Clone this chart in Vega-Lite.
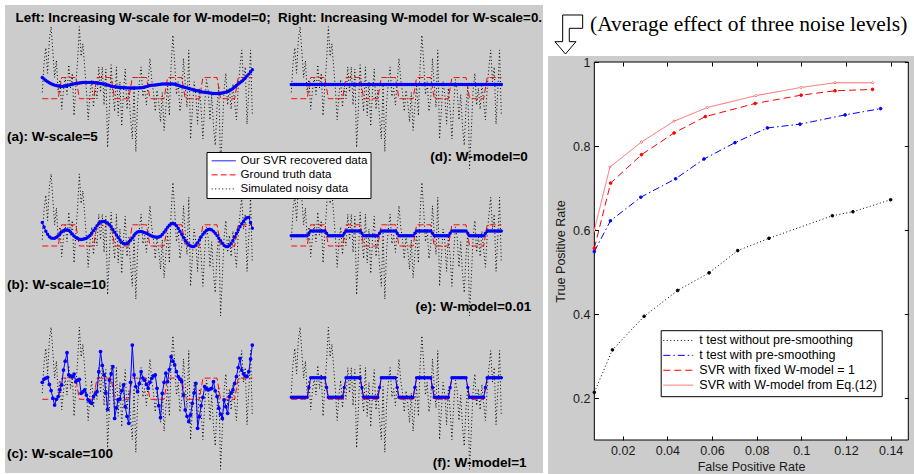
{
"$schema": "https://vega.github.io/schema/vega-lite/v6.json",
"background": "white",
"padding": {"left": 5, "top": 5, "right": 0, "bottom": 0},
"datasets": {
"sig": [
{"i":1,"noise":0.3,"truth":0,"a":1.0,"b":1.11,"c":0.8,"d":0.67,"e":0.48,"f":0.1},
{"i":2,"noise":1.7,"truth":0,"a":0.93,"b":0.9,"c":0.95,"d":0.67,"e":0.48,"f":0.1},
{"i":3,"noise":2.4,"truth":0,"a":0.86,"b":0.7,"c":1.0,"d":0.67,"e":0.48,"f":0.1},
{"i":4,"noise":1.2,"truth":0,"a":0.8,"b":0.55,"c":1.04,"d":0.67,"e":0.48,"f":0.1},
{"i":5,"noise":2.8,"truth":0,"a":0.75,"b":0.44,"c":0.7,"d":0.67,"e":0.48,"f":0.1},
{"i":6,"noise":3.4,"truth":0,"a":0.71,"b":0.38,"c":0.41,"d":0.67,"e":0.48,"f":0.1},
{"i":7,"noise":2.2,"truth":0,"a":0.67,"b":0.36,"c":0.05,"d":0.67,"e":0.48,"f":0.1},
{"i":8,"noise":1.0,"truth":0,"a":0.64,"b":0.37,"c":-0.27,"d":0.67,"e":0.48,"f":0.1},
{"i":9,"noise":1.8,"truth":0,"a":0.62,"b":0.41,"c":0.0,"d":0.67,"e":0.48,"f":0.1},
{"i":10,"noise":0.3,"truth":0,"a":0.6,"b":0.48,"c":0.13,"d":0.67,"e":0.48,"f":0.1},
{"i":11,"noise":0.9,"truth":0.5,"a":0.59,"b":0.57,"c":0.45,"d":0.67,"e":0.6,"f":0.56},
{"i":12,"noise":-0.5,"truth":1,"a":0.58,"b":0.66,"c":0.68,"d":0.67,"e":0.71,"f":1.02},
{"i":13,"noise":0.4,"truth":1,"a":0.59,"b":0.72,"c":1.38,"d":0.67,"e":0.71,"f":1.02},
{"i":14,"noise":1.0,"truth":1,"a":0.6,"b":0.75,"c":1.8,"d":0.67,"e":0.71,"f":1.02},
{"i":15,"noise":0.2,"truth":1,"a":0.62,"b":0.75,"c":2.2,"d":0.67,"e":0.71,"f":1.02},
{"i":16,"noise":1.6,"truth":1,"a":0.64,"b":0.73,"c":1.15,"d":0.67,"e":0.71,"f":1.02},
{"i":17,"noise":0.5,"truth":1,"a":0.66,"b":0.66,"c":1.1,"d":0.67,"e":0.71,"f":1.02},
{"i":18,"noise":1.2,"truth":1,"a":0.68,"b":0.56,"c":1.07,"d":0.67,"e":0.71,"f":1.02},
{"i":19,"noise":-0.8,"truth":1,"a":0.7,"b":0.47,"c":1.19,"d":0.67,"e":0.71,"f":1.02},
{"i":20,"noise":0.6,"truth":1,"a":0.72,"b":0.4,"c":0.83,"d":0.67,"e":0.71,"f":1.02},
{"i":21,"noise":1.8,"truth":0.5,"a":0.73,"b":0.35,"c":0.9,"d":0.67,"e":0.6,"f":0.56},
{"i":22,"noise":3.4,"truth":0,"a":0.74,"b":0.32,"c":0.94,"d":0.67,"e":0.48,"f":0.1},
{"i":23,"noise":2.0,"truth":0,"a":0.75,"b":0.31,"c":0.28,"d":0.67,"e":0.48,"f":0.1},
{"i":24,"noise":2.6,"truth":0,"a":0.76,"b":0.32,"c":0.35,"d":0.67,"e":0.48,"f":0.1},
{"i":25,"noise":1.5,"truth":0,"a":0.77,"b":0.34,"c":0.44,"d":0.67,"e":0.48,"f":0.1},
{"i":26,"noise":0.4,"truth":0,"a":0.77,"b":0.37,"c":0.2,"d":0.67,"e":0.48,"f":0.1},
{"i":27,"noise":-1.0,"truth":0,"a":0.77,"b":0.42,"c":-0.03,"d":0.67,"e":0.48,"f":0.1},
{"i":28,"noise":0.2,"truth":0,"a":0.77,"b":0.5,"c":-0.1,"d":0.67,"e":0.48,"f":0.1},
{"i":29,"noise":0.9,"truth":0,"a":0.76,"b":0.6,"c":-0.19,"d":0.67,"e":0.48,"f":0.1},
{"i":30,"noise":-0.4,"truth":0,"a":0.76,"b":0.72,"c":0.13,"d":0.67,"e":0.48,"f":0.1},
{"i":31,"noise":0.5,"truth":0.5,"a":0.75,"b":0.84,"c":0.25,"d":0.67,"e":0.6,"f":0.56},
{"i":32,"noise":0.0,"truth":1,"a":0.74,"b":0.96,"c":0.36,"d":0.67,"e":0.71,"f":1.02},
{"i":33,"noise":1.5,"truth":1,"a":0.73,"b":1.06,"c":1.3,"d":0.67,"e":0.71,"f":1.02},
{"i":34,"noise":0.3,"truth":1,"a":0.72,"b":1.13,"c":2.25,"d":0.67,"e":0.71,"f":1.02},
{"i":35,"noise":1.5,"truth":1,"a":0.7,"b":1.16,"c":1.6,"d":0.67,"e":0.71,"f":1.02},
{"i":36,"noise":-0.3,"truth":1,"a":0.69,"b":1.16,"c":1.15,"d":0.67,"e":0.71,"f":1.02},
{"i":37,"noise":1.4,"truth":1,"a":0.67,"b":1.13,"c":0.3,"d":0.67,"e":0.71,"f":1.02},
{"i":38,"noise":-2.3,"truth":1,"a":0.65,"b":1.08,"c":-0.47,"d":0.67,"e":0.71,"f":1.02},
{"i":39,"noise":-0.5,"truth":1,"a":0.62,"b":1.0,"c":0.91,"d":0.67,"e":0.71,"f":1.02},
{"i":40,"noise":1.6,"truth":1,"a":0.59,"b":0.9,"c":1.2,"d":0.67,"e":0.71,"f":1.02},
{"i":41,"noise":0.2,"truth":0.5,"a":0.57,"b":0.78,"c":1.54,"d":0.67,"e":0.6,"f":0.56},
{"i":42,"noise":-0.6,"truth":0,"a":0.56,"b":0.65,"c":-0.9,"d":0.67,"e":0.48,"f":0.1},
{"i":43,"noise":1.5,"truth":0,"a":0.55,"b":0.52,"c":-0.4,"d":0.67,"e":0.48,"f":0.1},
{"i":44,"noise":-0.8,"truth":0,"a":0.54,"b":0.4,"c":-0.03,"d":0.67,"e":0.48,"f":0.1},
{"i":45,"noise":0.8,"truth":0,"a":0.53,"b":0.28,"c":0.02,"d":0.67,"e":0.48,"f":0.1},
{"i":46,"noise":-1.3,"truth":0,"a":0.53,"b":0.18,"c":0.4,"d":0.67,"e":0.48,"f":0.1},
{"i":47,"noise":0.3,"truth":0,"a":0.52,"b":0.12,"c":0.68,"d":0.67,"e":0.48,"f":0.1},
{"i":48,"noise":1.4,"truth":0,"a":0.52,"b":0.1,"c":-0.35,"d":0.67,"e":0.48,"f":0.1},
{"i":49,"noise":-0.5,"truth":0,"a":0.51,"b":0.12,"c":-0.8,"d":0.67,"e":0.48,"f":0.1},
{"i":50,"noise":0.4,"truth":0,"a":0.51,"b":0.18,"c":-1.13,"d":0.67,"e":0.48,"f":0.1},
{"i":51,"noise":-0.9,"truth":0.5,"a":0.5,"b":0.27,"c":0.8,"d":0.67,"e":0.6,"f":0.56},
{"i":52,"noise":-1.9,"truth":1,"a":0.5,"b":0.38,"c":2.56,"d":0.67,"e":0.71,"f":1.02},
{"i":53,"noise":0.6,"truth":1,"a":0.5,"b":0.5,"c":1.15,"d":0.67,"e":0.71,"f":1.02},
{"i":54,"noise":-2.5,"truth":1,"a":0.51,"b":0.6,"c":0.6,"d":0.67,"e":0.71,"f":1.02},
{"i":55,"noise":-0.2,"truth":1,"a":0.51,"b":0.66,"c":0.36,"d":0.67,"e":0.71,"f":1.02},
{"i":56,"noise":0.8,"truth":1,"a":0.52,"b":0.68,"c":0.75,"d":0.67,"e":0.71,"f":1.02},
{"i":57,"noise":1.5,"truth":1,"a":0.52,"b":0.68,"c":1.3,"d":0.67,"e":0.71,"f":1.02},
{"i":58,"noise":0.1,"truth":1,"a":0.53,"b":0.66,"c":1.0,"d":0.67,"e":0.71,"f":1.02},
{"i":59,"noise":0.5,"truth":1,"a":0.55,"b":0.63,"c":0.9,"d":0.67,"e":0.71,"f":1.02},
{"i":60,"noise":-0.3,"truth":1,"a":0.57,"b":0.6,"c":0.7,"d":0.67,"e":0.71,"f":1.02},
{"i":61,"noise":0.8,"truth":0.5,"a":0.6,"b":0.56,"c":0.52,"d":0.67,"e":0.6,"f":0.56},
{"i":62,"noise":1.9,"truth":0,"a":0.62,"b":0.51,"c":0.8,"d":0.67,"e":0.48,"f":0.1},
{"i":63,"noise":0.9,"truth":0,"a":0.63,"b":0.47,"c":0.99,"d":0.67,"e":0.48,"f":0.1},
{"i":64,"noise":0.3,"truth":0,"a":0.64,"b":0.44,"c":1.1,"d":0.67,"e":0.48,"f":0.1},
{"i":65,"noise":-0.6,"truth":0,"a":0.65,"b":0.42,"c":1.15,"d":0.67,"e":0.48,"f":0.1},
{"i":66,"noise":0.4,"truth":0,"a":0.66,"b":0.41,"c":0.52,"d":0.67,"e":0.48,"f":0.1},
{"i":67,"noise":-0.2,"truth":0,"a":0.67,"b":0.42,"c":-0.3,"d":0.67,"e":0.48,"f":0.1},
{"i":68,"noise":-1.1,"truth":0,"a":0.68,"b":0.46,"c":-0.86,"d":0.67,"e":0.48,"f":0.1},
{"i":69,"noise":0.3,"truth":0,"a":0.69,"b":0.54,"c":0.28,"d":0.67,"e":0.48,"f":0.1},
{"i":70,"noise":-1.5,"truth":0,"a":0.69,"b":0.65,"c":0.8,"d":0.67,"e":0.48,"f":0.1},
{"i":71,"noise":-0.4,"truth":0.5,"a":0.69,"b":0.77,"c":1.23,"d":0.67,"e":0.6,"f":0.56},
{"i":72,"noise":0.6,"truth":1,"a":0.69,"b":0.88,"c":0.83,"d":0.67,"e":0.71,"f":1.02},
{"i":73,"noise":-0.8,"truth":1,"a":0.69,"b":0.98,"c":1.4,"d":0.67,"e":0.71,"f":1.02},
{"i":74,"noise":1.6,"truth":1,"a":0.69,"b":1.05,"c":2.01,"d":0.67,"e":0.71,"f":1.02},
{"i":75,"noise":3.0,"truth":1,"a":0.69,"b":1.07,"c":1.8,"d":0.67,"e":0.71,"f":1.02},
{"i":76,"noise":1.7,"truth":1,"a":0.68,"b":1.04,"c":1.62,"d":0.67,"e":0.71,"f":1.02},
{"i":77,"noise":0.2,"truth":1,"a":0.66,"b":0.96,"c":1.3,"d":0.67,"e":0.71,"f":1.02},
{"i":78,"noise":0.8,"truth":1,"a":0.63,"b":0.84,"c":1.07,"d":0.67,"e":0.71,"f":1.02},
{"i":79,"noise":-0.6,"truth":1,"a":0.6,"b":0.7,"c":0.95,"d":0.67,"e":0.71,"f":1.02},
{"i":80,"noise":0.0,"truth":1,"a":0.57,"b":0.55,"c":0.83,"d":0.67,"e":0.71,"f":1.02},
{"i":81,"noise":1.9,"truth":0.5,"a":0.55,"b":0.4,"c":0.2,"d":0.67,"e":0.6,"f":0.56},
{"i":82,"noise":0.6,"truth":0,"a":0.53,"b":0.26,"c":-0.5,"d":0.67,"e":0.48,"f":0.1},
{"i":83,"noise":-0.4,"truth":0,"a":0.51,"b":0.15,"c":-0.8,"d":0.67,"e":0.48,"f":0.1},
{"i":84,"noise":2.3,"truth":0,"a":0.48,"b":0.06,"c":-1.05,"d":0.67,"e":0.48,"f":0.1},
{"i":85,"noise":-1.9,"truth":0,"a":0.46,"b":0.0,"c":-0.74,"d":0.67,"e":0.48,"f":0.1},
{"i":86,"noise":-0.6,"truth":0,"a":0.43,"b":-0.03,"c":-0.19,"d":0.67,"e":0.48,"f":0.1},
{"i":87,"noise":0.8,"truth":0,"a":0.41,"b":-0.02,"c":0.3,"d":0.67,"e":0.48,"f":0.1},
{"i":88,"noise":0.2,"truth":0,"a":0.39,"b":0.05,"c":0.75,"d":0.67,"e":0.48,"f":0.1},
{"i":89,"noise":-1.2,"truth":0,"a":0.37,"b":0.15,"c":-1.37,"d":0.67,"e":0.48,"f":0.1},
{"i":90,"noise":0.5,"truth":0,"a":0.35,"b":0.28,"c":-0.82,"d":0.67,"e":0.48,"f":0.1},
{"i":91,"noise":-0.5,"truth":0.5,"a":0.33,"b":0.42,"c":-0.3,"d":0.67,"e":0.6,"f":0.56},
{"i":92,"noise":-1.9,"truth":1,"a":0.31,"b":0.55,"c":0.09,"d":0.67,"e":0.71,"f":1.02},
{"i":93,"noise":-0.3,"truth":1,"a":0.3,"b":0.65,"c":0.6,"d":0.67,"e":0.71,"f":1.02},
{"i":94,"noise":0.9,"truth":1,"a":0.29,"b":0.73,"c":0.5,"d":0.67,"e":0.71,"f":1.02},
{"i":95,"noise":0.4,"truth":1,"a":0.28,"b":0.78,"c":0.44,"d":0.67,"e":0.71,"f":1.02},
{"i":96,"noise":-1.0,"truth":1,"a":0.27,"b":0.79,"c":0.48,"d":0.67,"e":0.71,"f":1.02},
{"i":97,"noise":0.2,"truth":1,"a":0.26,"b":0.76,"c":0.52,"d":0.67,"e":0.71,"f":1.02},
{"i":98,"noise":-1.3,"truth":1,"a":0.25,"b":0.69,"c":0.83,"d":0.67,"e":0.71,"f":1.02},
{"i":99,"noise":-2.2,"truth":1,"a":0.25,"b":0.6,"c":0.4,"d":0.67,"e":0.71,"f":1.02},
{"i":100,"noise":-0.4,"truth":1,"a":0.25,"b":0.49,"c":0.13,"d":0.67,"e":0.71,"f":1.02},
{"i":101,"noise":0.6,"truth":0.5,"a":0.25,"b":0.37,"c":-0.42,"d":0.67,"e":0.6,"f":0.56},
{"i":102,"noise":-3.3,"truth":0,"a":0.26,"b":0.25,"c":-0.7,"d":0.67,"e":0.48,"f":0.1},
{"i":103,"noise":-1.5,"truth":0,"a":0.27,"b":0.13,"c":-0.9,"d":0.67,"e":0.48,"f":0.1},
{"i":104,"noise":0.4,"truth":0,"a":0.29,"b":0.03,"c":-0.03,"d":0.67,"e":0.48,"f":0.1},
{"i":105,"noise":1.2,"truth":0,"a":0.31,"b":-0.02,"c":-0.35,"d":0.67,"e":0.48,"f":0.1},
{"i":106,"noise":-0.3,"truth":0,"a":0.34,"b":-0.03,"c":-0.66,"d":0.67,"e":0.48,"f":0.1},
{"i":107,"noise":0.5,"truth":0,"a":0.38,"b":0.02,"c":0.13,"d":0.67,"e":0.48,"f":0.1},
{"i":108,"noise":-0.5,"truth":0,"a":0.42,"b":0.12,"c":0.3,"d":0.67,"e":0.48,"f":0.1},
{"i":109,"noise":0.7,"truth":0,"a":0.48,"b":0.26,"c":0.44,"d":0.67,"e":0.48,"f":0.1},
{"i":110,"noise":-0.2,"truth":0,"a":0.55,"b":0.42,"c":0.75,"d":0.67,"e":0.48,"f":0.1},
{"i":111,"noise":-1.0,"truth":0.5,"a":0.62,"b":0.59,"c":1.07,"d":0.67,"e":0.6,"f":0.56},
{"i":112,"noise":0.5,"truth":1,"a":0.69,"b":0.75,"c":1.5,"d":0.67,"e":0.71,"f":1.02},
{"i":113,"noise":1.5,"truth":1,"a":0.75,"b":0.91,"c":1.93,"d":0.67,"e":0.71,"f":1.02},
{"i":114,"noise":2.3,"truth":1,"a":0.82,"b":1.05,"c":1.38,"d":0.67,"e":0.71,"f":1.02},
{"i":115,"noise":0.8,"truth":1,"a":0.9,"b":1.17,"c":1.2,"d":0.67,"e":0.71,"f":1.02},
{"i":116,"noise":1.5,"truth":1,"a":0.98,"b":1.27,"c":1.1,"d":0.67,"e":0.71,"f":1.02},
{"i":117,"noise":-1.2,"truth":1,"a":1.07,"b":1.33,"c":1.07,"d":0.67,"e":0.71,"f":1.02},
{"i":118,"noise":0.4,"truth":1,"a":1.16,"b":1.35,"c":1.3,"d":0.67,"e":0.71,"f":1.02},
{"i":119,"noise":2.3,"truth":1,"a":1.26,"b":1.1,"c":1.9,"d":0.67,"e":0.71,"f":1.02},
{"i":120,"noise":-0.8,"truth":1,"a":1.37,"b":0.84,"c":2.56,"d":0.67,"e":0.71,"f":1.02}
],
"roc": [
{"series":"t test without pre-smoothing","fpr":0.0073,"tpr":0.2134},
{"series":"t test without pre-smoothing","fpr":0.0154,"tpr":0.3146},
{"series":"t test without pre-smoothing","fpr":0.0296,"tpr":0.3945},
{"series":"t test without pre-smoothing","fpr":0.0446,"tpr":0.4561},
{"series":"t test without pre-smoothing","fpr":0.0587,"tpr":0.498},
{"series":"t test without pre-smoothing","fpr":0.0715,"tpr":0.551},
{"series":"t test without pre-smoothing","fpr":0.0855,"tpr":0.5802},
{"series":"t test without pre-smoothing","fpr":0.1139,"tpr":0.634},
{"series":"t test without pre-smoothing","fpr":0.1231,"tpr":0.6435},
{"series":"t test without pre-smoothing","fpr":0.14,"tpr":0.672},
{"series":"t test with pre-smoothing","fpr":0.0073,"tpr":0.5486},
{"series":"t test with pre-smoothing","fpr":0.0145,"tpr":0.622},
{"series":"t test with pre-smoothing","fpr":0.0281,"tpr":0.678},
{"series":"t test with pre-smoothing","fpr":0.0437,"tpr":0.722},
{"series":"t test with pre-smoothing","fpr":0.0564,"tpr":0.769},
{"series":"t test with pre-smoothing","fpr":0.0703,"tpr":0.808},
{"series":"t test with pre-smoothing","fpr":0.0848,"tpr":0.843},
{"series":"t test with pre-smoothing","fpr":0.0994,"tpr":0.852},
{"series":"t test with pre-smoothing","fpr":0.1196,"tpr":0.874},
{"series":"t test with pre-smoothing","fpr":0.1355,"tpr":0.889},
{"series":"SVR with fixed W-model = 1","fpr":0.0073,"tpr":0.5565},
{"series":"SVR with fixed W-model = 1","fpr":0.0146,"tpr":0.7116},
{"series":"SVR with fixed W-model = 1","fpr":0.0284,"tpr":0.7793},
{"series":"SVR with fixed W-model = 1","fpr":0.043,"tpr":0.831},
{"series":"SVR with fixed W-model = 1","fpr":0.057,"tpr":0.87},
{"series":"SVR with fixed W-model = 1","fpr":0.0793,"tpr":0.9012},
{"series":"SVR with fixed W-model = 1","fpr":0.0999,"tpr":0.921},
{"series":"SVR with fixed W-model = 1","fpr":0.1151,"tpr":0.9315},
{"series":"SVR with fixed W-model = 1","fpr":0.1319,"tpr":0.9347},
{"series":"SVR with W-model from Eq.(12)","fpr":0.0073,"tpr":0.6},
{"series":"SVR with W-model from Eq.(12)","fpr":0.0143,"tpr":0.75},
{"series":"SVR with W-model from Eq.(12)","fpr":0.0284,"tpr":0.8096},
{"series":"SVR with W-model from Eq.(12)","fpr":0.043,"tpr":0.859},
{"series":"SVR with W-model from Eq.(12)","fpr":0.0579,"tpr":0.8916},
{"series":"SVR with W-model from Eq.(12)","fpr":0.0797,"tpr":0.92},
{"series":"SVR with W-model from Eq.(12)","fpr":0.0999,"tpr":0.9394},
{"series":"SVR with W-model from Eq.(12)","fpr":0.1151,"tpr":0.9506},
{"series":"SVR with W-model from Eq.(12)","fpr":0.1319,"tpr":0.9506}
]
},
"spacing": 5,
"resolve": {"scale": {"color": "independent", "strokeDash": "independent"}, "legend": {"color": "independent", "strokeDash": "independent"}},
"hconcat": [
{
"columns": 2,
"spacing": 0,
"bounds": "flush",
"align": "each",
"concat": [
 {"width": 249, "height": 168, "data": {"name": "sig"},
  "layer": [
   {"mark": {"type": "line", "strokeWidth": 1}, "encoding": {
     "x": {"field": "i", "type": "quantitative", "scale": {"domain": [-20.13, 120.95], "nice": false, "zero": false}, "axis": null},
     "y": {"field": "noise", "type": "quantitative", "scale": {"domain": [-3.505, 4.42], "nice": false, "zero": false}, "axis": null},
     "color": {"datum": "Simulated noisy data", "type": "nominal", "scale": {"domain": ["Our SVR recovered data", "Ground truth data", "Simulated noisy data"], "range": ["#0000ff", "#ff0000", "#000000"]},
       "legend": {"orient": "none", "legendX": 201.5, "legendY": 147, "title": null, "padding": 3, "fillColor": "#ffffff", "strokeColor": "#000000", "symbolType": "M-2.4,0H2.4", "symbolSize": 100, "symbolStrokeWidth": 1, "symbolOffset": 8.4, "labelOffset": 11.0, "rowPadding": 1.05, "labelFontSize": 11.6, "labelFont": "Liberation Sans", "labelColor": "#000000", "labelLimit": 300}},
     "strokeDash": {"datum": "Simulated noisy data", "type": "nominal", "scale": {"domain": ["Our SVR recovered data", "Ground truth data", "Simulated noisy data"], "range": [[1, 0], [6, 3], [1, 2.5]]},
       "legend": {"orient": "none", "legendX": 201.5, "legendY": 147, "title": null, "padding": 3, "fillColor": "#ffffff", "strokeColor": "#000000", "symbolType": "M-2.4,0H2.4", "symbolSize": 100, "symbolStrokeWidth": 1, "symbolOffset": 8.4, "labelOffset": 11.0, "rowPadding": 1.05, "labelFontSize": 11.6, "labelFont": "Liberation Sans", "labelColor": "#000000", "labelLimit": 300}}}},
   {"mark": {"type": "line", "strokeWidth": 1}, "encoding": {"x": {"field": "i", "type": "quantitative", "axis": null}, "y": {"field": "truth", "type": "quantitative", "axis": null}, "color": {"datum": "Ground truth data", "type": "nominal"}, "strokeDash": {"datum": "Ground truth data", "type": "nominal"}}},
   {"mark": {"type": "line", "strokeWidth": 1}, "encoding": {"x": {"field": "i", "type": "quantitative", "axis": null}, "y": {"field": "a", "type": "quantitative", "axis": null}, "color": {"datum": "Our SVR recovered data", "type": "nominal"}, "strokeDash": {"datum": "Our SVR recovered data", "type": "nominal"}}},
   {"mark": {"type": "point", "filled": true, "color": "#0000ff", "size": 12, "opacity": 1}, "encoding": {"x": {"field": "i", "type": "quantitative", "axis": null}, "y": {"field": "a", "type": "quantitative", "axis": null}}},
   {"data": {"values": [{"label": "(a): W-scale=5"}]}, "mark": {"type": "text", "align": "left", "baseline": "middle", "font": "Liberation Sans", "fontWeight": "bold", "fontSize": 13.5, "color": "#000000"},
    "encoding": {"x": {"datum": -19.0, "type": "quantitative", "axis": null}, "y": {"datum": -1.79, "type": "quantitative", "axis": null}, "text": {"field": "label"}}}
  ]},
 {"width": 289, "height": 168, "data": {"name": "sig"},
  "layer": [
   {"mark": {"type": "line", "color": "#000000", "strokeDash": [1, 2.5], "strokeWidth": 1}, "encoding": {"x": {"field": "i", "type": "quantitative", "scale": {"domain": [-20.13, 143.61], "nice": false, "zero": false}, "axis": null}, "y": {"field": "noise", "type": "quantitative", "scale": {"domain": [-3.505, 4.42], "nice": false, "zero": false}, "axis": null}}},
   {"mark": {"type": "line", "color": "#ff0000", "strokeDash": [6, 3], "strokeWidth": 1}, "encoding": {"x": {"field": "i", "type": "quantitative", "axis": null}, "y": {"field": "truth", "type": "quantitative", "axis": null}}},
   {"mark": {"type": "line", "color": "#0000ff", "strokeWidth": 1}, "encoding": {"x": {"field": "i", "type": "quantitative", "axis": null}, "y": {"field": "d", "type": "quantitative", "axis": null}}},
   {"mark": {"type": "point", "filled": true, "color": "#0000ff", "size": 12, "opacity": 1}, "encoding": {"x": {"field": "i", "type": "quantitative", "axis": null}, "y": {"field": "d", "type": "quantitative", "axis": null}}},
   {"data": {"values": [{"label": "(d): W-model=0"}]}, "mark": {"type": "text", "align": "right", "baseline": "middle", "font": "Liberation Sans", "fontWeight": "bold", "fontSize": 13.5, "color": "#000000"},
    "encoding": {"x": {"datum": 135.0, "type": "quantitative", "axis": null}, "y": {"datum": -2.76, "type": "quantitative", "axis": null}, "text": {"field": "label"}}},
   {"data": {"values": [{"t": "Left: Increasing W-scale for W-model=0;\u00a0 Right: Increasing W-model for W-scale=0."}]}, "mark": {"type": "text", "align": "left", "baseline": "middle", "font": "Liberation Sans", "fontWeight": "bold", "fontSize": 13.4, "color": "#000000"},
    "encoding": {"x": {"datum": -155.2, "type": "quantitative", "axis": null}, "y": {"datum": 3.79, "type": "quantitative", "axis": null}, "text": {"field": "t"}}}
  ]},
 {"width": 249, "height": 150, "data": {"name": "sig"},
  "layer": [
   {"mark": {"type": "line", "color": "#000000", "strokeDash": [1, 2.5], "strokeWidth": 1}, "encoding": {"x": {"field": "i", "type": "quantitative", "scale": {"domain": [-20.13, 120.95], "nice": false, "zero": false}, "axis": null}, "y": {"field": "noise", "type": "quantitative", "scale": {"domain": [-3.632, 3.443], "nice": false, "zero": false}, "axis": null}}},
   {"mark": {"type": "line", "color": "#ff0000", "strokeDash": [6, 3], "strokeWidth": 1}, "encoding": {"x": {"field": "i", "type": "quantitative", "axis": null}, "y": {"field": "truth", "type": "quantitative", "axis": null}}},
   {"mark": {"type": "line", "color": "#0000ff", "strokeWidth": 1}, "encoding": {"x": {"field": "i", "type": "quantitative", "axis": null}, "y": {"field": "b", "type": "quantitative", "axis": null}}},
   {"mark": {"type": "point", "filled": true, "color": "#0000ff", "size": 12, "opacity": 1}, "encoding": {"x": {"field": "i", "type": "quantitative", "axis": null}, "y": {"field": "b", "type": "quantitative", "axis": null}}},
   {"data": {"values": [{"label": "(b): W-scale=10"}]}, "mark": {"type": "text", "align": "left", "baseline": "middle", "font": "Liberation Sans", "fontWeight": "bold", "fontSize": 13.5, "color": "#000000"},
    "encoding": {"x": {"datum": -19.0, "type": "quantitative", "axis": null}, "y": {"datum": -1.84, "type": "quantitative", "axis": null}, "text": {"field": "label"}}}
  ]},
 {"width": 289, "height": 150, "data": {"name": "sig"},
  "layer": [
   {"mark": {"type": "line", "color": "#000000", "strokeDash": [1, 2.5], "strokeWidth": 1}, "encoding": {"x": {"field": "i", "type": "quantitative", "scale": {"domain": [-20.13, 143.61], "nice": false, "zero": false}, "axis": null}, "y": {"field": "noise", "type": "quantitative", "scale": {"domain": [-3.632, 3.443], "nice": false, "zero": false}, "axis": null}}},
   {"mark": {"type": "line", "color": "#ff0000", "strokeDash": [6, 3], "strokeWidth": 1}, "encoding": {"x": {"field": "i", "type": "quantitative", "axis": null}, "y": {"field": "truth", "type": "quantitative", "axis": null}}},
   {"mark": {"type": "line", "color": "#0000ff", "strokeWidth": 1}, "encoding": {"x": {"field": "i", "type": "quantitative", "axis": null}, "y": {"field": "e", "type": "quantitative", "axis": null}}},
   {"mark": {"type": "point", "filled": true, "color": "#0000ff", "size": 12, "opacity": 1}, "encoding": {"x": {"field": "i", "type": "quantitative", "axis": null}, "y": {"field": "e", "type": "quantitative", "axis": null}}},
   {"data": {"values": [{"label": "(e): W-model=0.01"}]}, "mark": {"type": "text", "align": "right", "baseline": "middle", "font": "Liberation Sans", "fontWeight": "bold", "fontSize": 13.5, "color": "#000000"},
    "encoding": {"x": {"datum": 136.9, "type": "quantitative", "axis": null}, "y": {"datum": -2.86, "type": "quantitative", "axis": null}, "text": {"field": "label"}}}
  ]},
 {"width": 249, "height": 150, "data": {"name": "sig"},
  "layer": [
   {"mark": {"type": "line", "color": "#000000", "strokeDash": [1, 2.5], "strokeWidth": 1}, "encoding": {"x": {"field": "i", "type": "quantitative", "scale": {"domain": [-20.13, 120.95], "nice": false, "zero": false}, "axis": null}, "y": {"field": "noise", "type": "quantitative", "scale": {"domain": [-3.476, 3.599], "nice": false, "zero": false}, "axis": null}}},
   {"mark": {"type": "line", "color": "#ff0000", "strokeDash": [6, 3], "strokeWidth": 1}, "encoding": {"x": {"field": "i", "type": "quantitative", "axis": null}, "y": {"field": "truth", "type": "quantitative", "axis": null}}},
   {"mark": {"type": "line", "color": "#0000ff", "strokeWidth": 1}, "encoding": {"x": {"field": "i", "type": "quantitative", "axis": null}, "y": {"field": "c", "type": "quantitative", "axis": null}}},
   {"mark": {"type": "point", "filled": true, "color": "#0000ff", "size": 14, "opacity": 1}, "encoding": {"x": {"field": "i", "type": "quantitative", "axis": null}, "y": {"field": "c", "type": "quantitative", "axis": null}}},
   {"data": {"values": [{"label": "(c): W-scale=100"}]}, "mark": {"type": "text", "align": "left", "baseline": "middle", "font": "Liberation Sans", "fontWeight": "bold", "fontSize": 13.5, "color": "#000000"},
    "encoding": {"x": {"datum": -19.0, "type": "quantitative", "axis": null}, "y": {"datum": -2.58, "type": "quantitative", "axis": null}, "text": {"field": "label"}}}
  ]},
 {"width": 289, "height": 150, "data": {"name": "sig"},
  "layer": [
   {"mark": {"type": "line", "color": "#000000", "strokeDash": [1, 2.5], "strokeWidth": 1}, "encoding": {"x": {"field": "i", "type": "quantitative", "scale": {"domain": [-20.13, 143.61], "nice": false, "zero": false}, "axis": null}, "y": {"field": "noise", "type": "quantitative", "scale": {"domain": [-3.476, 3.599], "nice": false, "zero": false}, "axis": null}}},
   {"mark": {"type": "line", "color": "#ff0000", "strokeDash": [6, 3], "strokeWidth": 1}, "encoding": {"x": {"field": "i", "type": "quantitative", "axis": null}, "y": {"field": "truth", "type": "quantitative", "axis": null}}},
   {"mark": {"type": "line", "color": "#0000ff", "strokeWidth": 1}, "encoding": {"x": {"field": "i", "type": "quantitative", "axis": null}, "y": {"field": "f", "type": "quantitative", "axis": null}}},
   {"mark": {"type": "point", "filled": true, "color": "#0000ff", "size": 12, "opacity": 1}, "encoding": {"x": {"field": "i", "type": "quantitative", "axis": null}, "y": {"field": "f", "type": "quantitative", "axis": null}}},
   {"data": {"values": [{"label": "(f): W-model=1"}]}, "mark": {"type": "text", "align": "right", "baseline": "middle", "font": "Liberation Sans", "fontWeight": "bold", "fontSize": 13.5, "color": "#000000"},
    "encoding": {"x": {"datum": 134.3, "type": "quantitative", "axis": null}, "y": {"datum": -2.99, "type": "quantitative", "axis": null}, "text": {"field": "label"}}}
  ]}
]
},
{
"spacing": 0,
"resolve": {"scale": {"color": "independent", "strokeDash": "independent"}, "legend": {"color": "independent", "strokeDash": "independent"}},
"vconcat": [
{"width": 366, "height": 51, "view": {"fill": "#ffffff", "stroke": null},
 "layer": [
  {"data": {"values": [{"t": "(Average effect of three noise levels)"}]}, "mark": {"type": "text", "align": "left", "baseline": "middle", "font": "Liberation Serif", "fontSize": 21.5, "color": "#000000"},
   "encoding": {"x": {"datum": 0.1148, "type": "quantitative", "scale": {"domain": [0, 1]}, "axis": null}, "y": {"datum": 0.608, "type": "quantitative", "scale": {"domain": [0, 1]}, "axis": null}, "text": {"field": "t"}}},
  {"data": {"values": [{"t": "arrow"}]}, "mark": {"type": "point", "shape": "M-0.265,-0.975L0.735,-0.975L0.735,-0.31L0.065,-0.31L0.065,0.36L0.4,0.36L-0.125,0.975L-0.65,0.36L-0.265,0.36Z", "size": 1600, "filled": true, "fill": "#ffffff", "stroke": "#000000", "strokeWidth": 1, "opacity": 1},
   "encoding": {"x": {"datum": 0.0546, "type": "quantitative", "axis": null}, "y": {"datum": 0.4216, "type": "quantitative", "axis": null}}}
 ]},
{"width": 366, "height": 418,
 "data": {"name": "roc"},
 "resolve": {"axis": {"x": "independent", "y": "independent"}},
 "layer": [
  {"data": {"values": [{"t": "box"}]}, "mark": {"type": "rect", "fill": "#ffffff", "stroke": "#000000", "strokeWidth": 1},
   "encoding": {
    "x": {"datum": 0.0073, "type": "quantitative", "scale": {"domain": [-0.013453, 0.150452], "nice": false, "zero": false},
      "axis": {"orient": "bottom", "offset": -34, "values": [0.02, 0.04, 0.06, 0.08, 0.1, 0.12, 0.14], "format": "~g", "domain": false, "grid": false, "tickSize": -4, "tickColor": "#000000", "tickWidth": 1, "labelPadding": 8.5, "labelFont": "Liberation Sans", "labelFontSize": 12.5, "labelColor": "#1a1a1a", "labelFlush": false, "labelOverlap": false, "title": "False Positive Rate", "titleFont": "Liberation Sans", "titleFontSize": 12.5, "titleFontWeight": "normal", "titleColor": "#1a1a1a", "titleX": 203, "titleY": 26.7, "titleBaseline": "middle", "titleAlign": "center", "zindex": 1}},
    "x2": {"datum": 0.1479},
    "y": {"datum": 0.1, "type": "quantitative", "scale": {"domain": [0.01905, 1.01429], "nice": false, "zero": false},
      "axis": {"orient": "left", "offset": -46.4, "values": [0.2, 0.4, 0.6, 0.8, 1], "format": "~g", "domain": false, "grid": false, "tickSize": -4, "tickColor": "#000000", "tickWidth": 1, "labelPadding": 8.5, "labelFont": "Liberation Sans", "labelFontSize": 12.5, "labelColor": "#1a1a1a", "labelFlush": false, "labelOverlap": false, "title": "True Positive Rate", "titleFont": "Liberation Sans", "titleFontSize": 12.5, "titleFontWeight": "normal", "titleColor": "#1a1a1a", "titleX": -34.4, "titleY": 195, "titleAngle": -90, "titleBaseline": "middle", "titleAlign": "center", "zindex": 1}},
    "y2": {"datum": 1.0}
   }},
  {"mark": {"type": "line", "strokeWidth": 1},
   "encoding": {
    "x": {"field": "fpr", "type": "quantitative", "axis": {"orient": "top", "offset": -6, "values": [0.02, 0.04, 0.06, 0.08, 0.1, 0.12, 0.14], "labels": false, "domain": false, "grid": false, "tickSize": -4, "tickColor": "#000000", "tickWidth": 1, "title": null, "zindex": 1}},
    "y": {"field": "tpr", "type": "quantitative", "axis": {"orient": "right", "offset": -5.7, "values": [0.2, 0.4, 0.6, 0.8, 1], "labels": false, "domain": false, "grid": false, "tickSize": -4, "tickColor": "#000000", "tickWidth": 1, "title": null, "zindex": 1}},
    "color": {"field": "series", "type": "nominal", "scale": {"domain": ["t test without pre-smoothing", "t test with pre-smoothing", "SVR with fixed W-model = 1", "SVR with W-model from Eq.(12)"], "range": ["#000000", "#0000ff", "#ff0000", "#ff6a6a"]},
      "legend": {"orient": "none", "legendX": 112.7, "legendY": 274.2, "title": null, "padding": 4, "fillColor": "#ffffff", "strokeColor": "#000000", "symbolType": "M-2.727,0H2.727", "symbolSize": 121, "symbolStrokeWidth": 1, "symbolOffset": 7.35, "labelOffset": 14.75, "rowPadding": 1.9, "labelFontSize": 12.5, "labelFont": "Liberation Sans", "labelColor": "#000000", "labelLimit": 400}},
    "strokeDash": {"field": "series", "type": "nominal", "scale": {"domain": ["t test without pre-smoothing", "t test with pre-smoothing", "SVR with fixed W-model = 1", "SVR with W-model from Eq.(12)"], "range": [[1, 2.5], [7, 3, 1.5, 3], [7, 4], [1, 0]]},
      "legend": {"orient": "none", "legendX": 112.7, "legendY": 274.2, "title": null, "padding": 4, "fillColor": "#ffffff", "strokeColor": "#000000", "symbolType": "M-2.727,0H2.727", "symbolSize": 121, "symbolStrokeWidth": 1, "symbolOffset": 7.35, "labelOffset": 14.75, "rowPadding": 1.9, "labelFontSize": 12.5, "labelFont": "Liberation Sans", "labelColor": "#000000", "labelLimit": 400}}
   }},
  {"mark": {"type": "point", "filled": true, "strokeWidth": 1, "opacity": 1},
   "encoding": {
    "x": {"field": "fpr", "type": "quantitative", "axis": null},
    "y": {"field": "tpr", "type": "quantitative", "axis": null},
    "shape": {"field": "series", "type": "nominal", "scale": {"domain": ["t test without pre-smoothing", "t test with pre-smoothing", "SVR with fixed W-model = 1", "SVR with W-model from Eq.(12)"], "range": ["circle", "circle", "circle", "diamond"]}, "legend": null},
    "fill": {"field": "series", "type": "nominal", "scale": {"domain": ["t test without pre-smoothing", "t test with pre-smoothing", "SVR with fixed W-model = 1", "SVR with W-model from Eq.(12)"], "range": ["#000000", "#0000ff", "#ff0000", "#ffffff"]}, "legend": null},
    "stroke": {"field": "series", "type": "nominal", "scale": {"domain": ["t test without pre-smoothing", "t test with pre-smoothing", "SVR with fixed W-model = 1", "SVR with W-model from Eq.(12)"], "range": ["#000000", "#0000ff", "#ff0000", "#ff6a6a"]}, "legend": null},
    "size": {"field": "series", "type": "nominal", "scale": {"domain": ["t test without pre-smoothing", "t test with pre-smoothing", "SVR with fixed W-model = 1", "SVR with W-model from Eq.(12)"], "range": [7, 7, 7, 40]}, "legend": null}
   }}
 ]}
]
}
],
"config": {"view": {"fill": "#cccccc", "stroke": null}, "font": "Liberation Sans"}
}
